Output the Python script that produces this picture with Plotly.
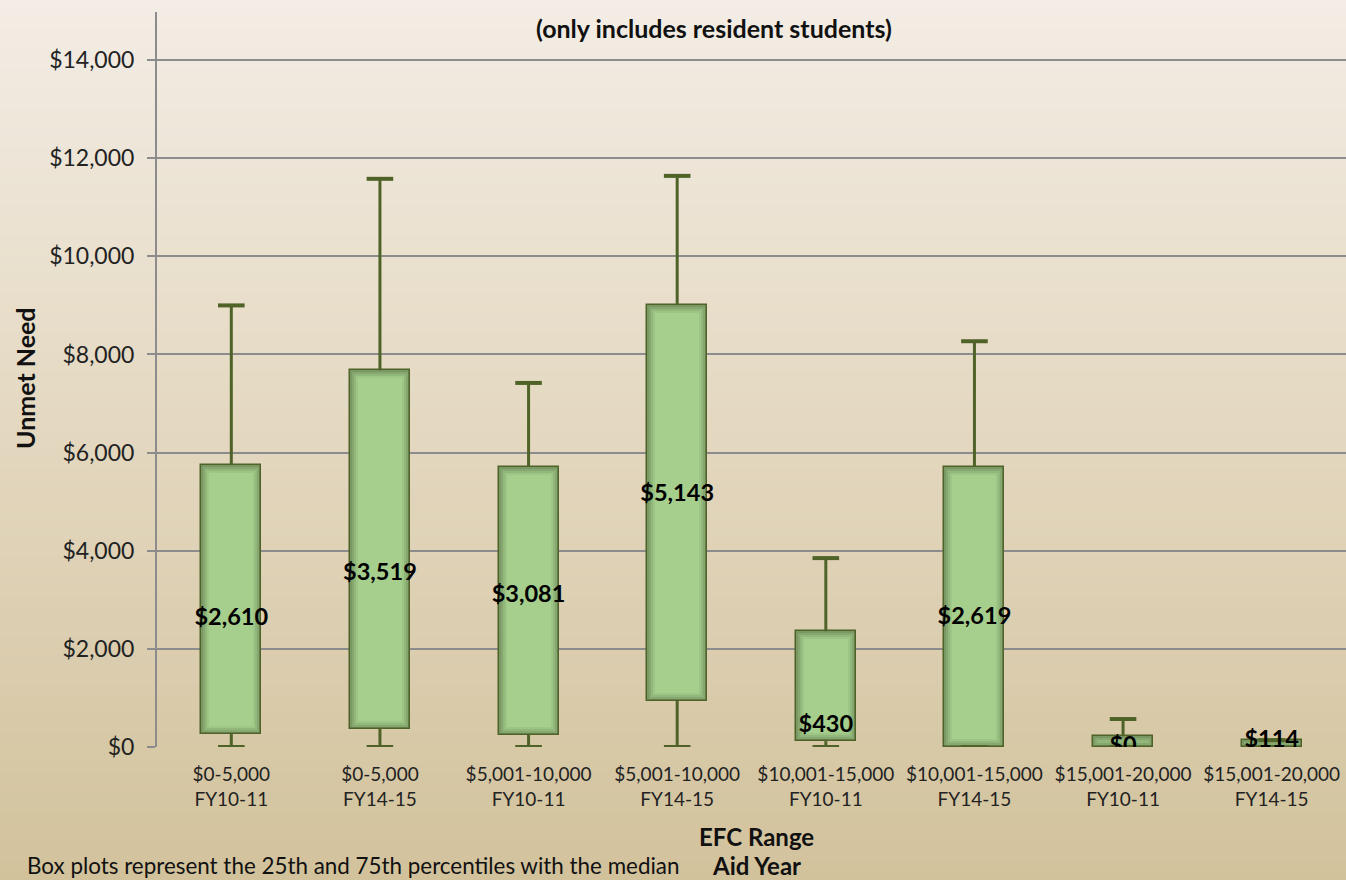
import plotly.graph_objects as go

# EFC range / aid year groups
categories = [
    "$0-5,000<br>FY10-11", "$0-5,000<br>FY14-15",
    "$5,001-10,000<br>FY10-11", "$5,001-10,000<br>FY14-15",
    "$10,001-15,000<br>FY10-11", "$10,001-15,000<br>FY14-15",
    "$15,001-20,000<br>FY10-11", "$15,001-20,000<br>FY14-15",
]
# five-number summaries of unmet need ($)
minimum = [0, 0, 0, 0, 0, 0, 0, 0]
q1 = [270, 370, 245, 940, 120, 0, 0, 0]
median = [2610, 3519, 3081, 5143, 430, 2619, 0, 114]
q3 = [5750, 7680, 5710, 9010, 2360, 5710, 220, 140]
maximum = [9000, 11580, 7420, 11640, 3850, 8270, 570, 140]
median_labels = ["$2,610", "$3,519", "$3,081", "$5,143", "$430", "$2,619", "$0", "$114"]

FONT = "Lato"
W, H = 1346, 880
ML, MR, MT, MB = 157, 0, 12, 133
YMAX = 14980
DARK = "#4F6228"

plot_w = W - ML - MR
plot_h = H - MT - MB
units_per_px = YMAX / plot_h
cat_px = plot_w / len(categories)

fig = go.Figure()

# boxes: nested bars give a soft inner-shadow look
shades = ["#7A9864", "#86A770", "#92B77B", "#9DC585", "#A6CE8C"]
for k, col in enumerate(shades):
    inset_px = 2 * k
    dy = inset_px * units_per_px
    bx, bb, bh = [], [], []
    for c, lo, hi in zip(categories, q1, q3):
        if hi - lo > 2 * dy:
            bx.append(c)
            bb.append(lo + dy)
            bh.append(hi - lo - 2 * dy)
    fig.add_trace(go.Bar(
        x=bx, y=bh, base=bb,
        width=(60 - 2 * inset_px) / cat_px,
        marker=dict(color=col,
                    line=dict(color=DARK, width=1.5 if k == 0 else 0)),
        hoverinfo="skip", showlegend=False,
    ))

# whiskers
wx, wy = [], []
for c, lo, a, b, hi in zip(categories, minimum, q1, q3, maximum):
    wx += [c, c, None, c, c, None]
    wy += [b, hi, None, lo, a, None]
fig.add_trace(go.Scatter(
    x=wx, y=wy, mode="lines", line=dict(color=DARK, width=3),
    hoverinfo="skip", showlegend=False,
))

# whisker caps
fig.add_trace(go.Scatter(
    x=categories + categories, y=maximum + minimum, mode="markers",
    marker=dict(symbol="line-ew", size=19, line=dict(color=DARK, width=4)),
    hoverinfo="skip", showlegend=False,
))

# median value labels
fig.add_trace(go.Scatter(
    x=categories, y=median, mode="text", text=median_labels,
    textposition="middle center",
    textfont=dict(family=FONT, size=23.5, color="#000000", weight="bold"),
    hoverinfo="skip", showlegend=False,
))

# vertical background gradient
stops = [(0.0, (243, 237, 229)), (0.5, (227, 215, 191)), (1.0, (210, 194, 156))]


def grad(t):
    for (t0, c0), (t1, c1) in zip(stops[:-1], stops[1:]):
        if t <= t1:
            f = (t - t0) / (t1 - t0)
            return "rgb(%d,%d,%d)" % tuple(round(a + (b - a) * f) for a, b in zip(c0, c1))
    return "rgb(%d,%d,%d)" % stops[-1][1]


shapes = []
n = 90
for i in range(n):
    top_px = H * i / n
    bot_px = H * (i + 1) / n + 1
    shapes.append(dict(
        type="rect", xref="paper", yref="paper", layer="below",
        x0=-ML / plot_w, x1=1 + MR / plot_w + 0.01,
        y0=(H - MB - bot_px) / plot_h, y1=(H - MB - top_px) / plot_h,
        fillcolor=grad((i + 0.5) / n), line=dict(width=0),
    ))

annotations = [
    dict(text="<b>(only includes resident students)</b>", xref="paper", yref="paper",
         x=(714 - ML) / plot_w, y=(H - MB - 28) / plot_h, showarrow=False,
         font=dict(family=FONT, size=25, color="#111111"), xanchor="center", yanchor="middle"),
    dict(text="<b>Unmet Need</b>", xref="paper", yref="paper", textangle=-90,
         x=(25 - ML) / plot_w, y=(H - MB - 378) / plot_h, showarrow=False,
         font=dict(family=FONT, size=25, color="#111111"), xanchor="center", yanchor="middle"),
    dict(text="<b>EFC Range</b>", xref="paper", yref="paper",
         x=(756 - ML) / plot_w, y=(H - MB - 837) / plot_h, showarrow=False,
         font=dict(family=FONT, size=24, color="#111111"), xanchor="center", yanchor="middle"),
    dict(text="<b>Aid Year</b>", xref="paper", yref="paper",
         x=(756 - ML) / plot_w, y=(H - MB - 865) / plot_h, showarrow=False,
         font=dict(family=FONT, size=24, color="#111111"), xanchor="center", yanchor="middle"),
    dict(text="Box plots represent the 25th and 75th percentiles with the median",
         xref="paper", yref="paper",
         x=(25 - ML) / plot_w, y=(H - MB - 865) / plot_h, showarrow=False,
         font=dict(family=FONT, size=22.4, color="#111111"), xanchor="left", yanchor="middle"),
]

fig.update_layout(
    width=W, height=H,
    margin=dict(l=ML, r=MR, t=MT, b=MB, pad=0),
    barmode="overlay", bargap=0,
    paper_bgcolor="rgb(210,194,156)", plot_bgcolor="rgba(0,0,0,0)",
    shapes=shapes, annotations=annotations, showlegend=False,
    xaxis=dict(
        type="category", categoryorder="array", categoryarray=categories,
        range=[-0.5, len(categories) - 0.5],
        showgrid=False, zeroline=False, showline=False, ticks="",
        ticklabelstandoff=14,
        tickfont=dict(family=FONT, size=19, color="#222222"),
    ),
    yaxis=dict(
        range=[0, YMAX], tickvals=list(range(0, 14001, 2000)),
        ticktext=["$0", "$2,000", "$4,000", "$6,000", "$8,000", "$10,000", "$12,000", "$14,000"],
        showgrid=True, gridcolor="#8C8C8C", gridwidth=2,
        zeroline=False, showline=True, linecolor="#8C8C8C", linewidth=2,
        ticks="outside", ticklen=8, tickcolor="#8C8C8C", tickwidth=2,
        ticklabelstandoff=8,
        tickfont=dict(family=FONT, size=23, color="#222222"),
    ),
)

fig.write_html("out.html")
